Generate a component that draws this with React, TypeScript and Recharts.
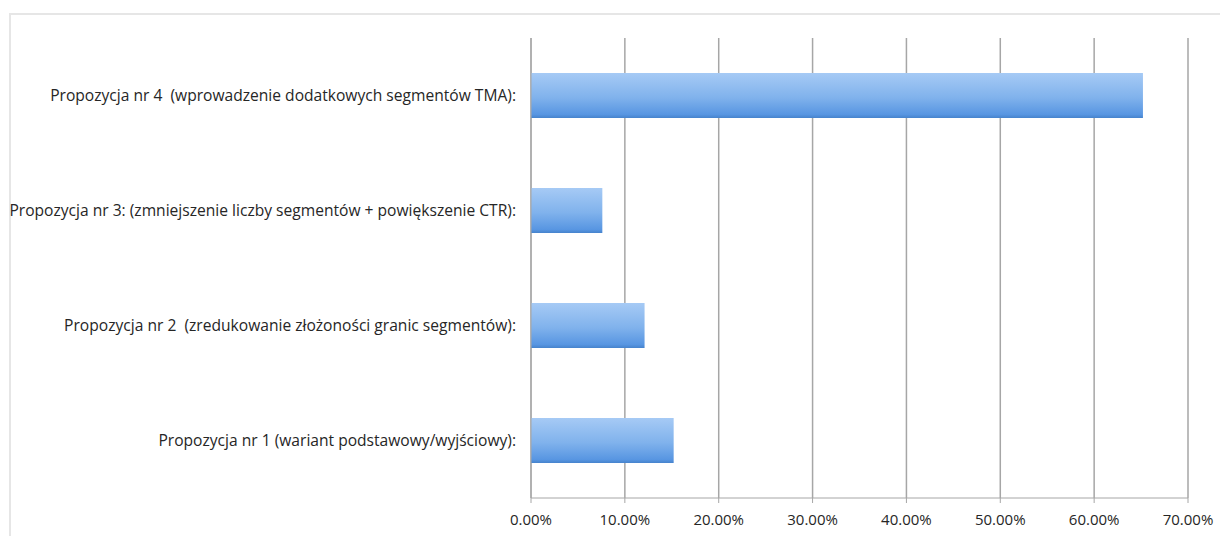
import { Bar, BarChart, CartesianGrid, XAxis, YAxis } from "recharts";

const categories = [
    "Propozycja nr 4 \u00a0(wprowadzenie dodatkowych segmentów TMA):",
    "Propozycja nr 3: (zmniejszenie liczby segmentów + powiększenie CTR):",
    "Propozycja nr 2 \u00a0(zredukowanie złożoności granic segmentów):",
    "Propozycja nr 1 (wariant podstawowy/wyjściowy):",
];
const shares = [0.652, 0.076, 0.121, 0.152];
const xTicks = [0, 0.1, 0.2, 0.3, 0.4, 0.5, 0.6, 0.7];

const data = categories.map((name, i) => ({ name, value: shares[i] }));

const FONT = "'Open Sans', 'Liberation Sans', sans-serif";

export default function App() {
    return (
        <div
            style={{
                position: "absolute",
                left: 0,
                top: 0,
                width: 1220,
                height: 536,
                background: "#fff",
                overflow: "hidden",
            }}
        >
            <div
                style={{
                    position: "absolute",
                    left: 9,
                    top: 13,
                    width: 1220,
                    height: 536,
                    borderTop: "2px solid #e6e6e6",
                    borderLeft: "2px solid #e6e6e6",
                }}
            />
            <div style={{ position: "absolute", left: 0, top: 0 }}>
                <BarChart
                    width={1220}
                    height={536}
                    data={data}
                    layout="vertical"
                    margin={{ top: 38, right: 32, bottom: 8, left: 0 }}
                    barCategoryGap={0}
                >
                    <defs>
                        <linearGradient id="barFill" x1="0" y1="0" x2="0" y2="1">
                            <stop offset="0%" stopColor="#a6caf5" />
                            <stop offset="55%" stopColor="#80b2ec" />
                            <stop offset="92%" stopColor="#5896e2" />
                            <stop offset="100%" stopColor="#4683cc" />
                        </linearGradient>
                    </defs>
                    <CartesianGrid
                        horizontal={false}
                        stroke="#a6a6a6"
                        strokeWidth={1.5}
                    />
                    <XAxis
                        type="number"
                        domain={[0, 0.7]}
                        ticks={xTicks}
                        height={30}
                        interval={0}
                        stroke="#a6a6a6"
                        tickSize={5}
                        tickMargin={11}
                        tick={{ fill: "#262626", fontSize: 15, fontFamily: FONT }}
                        tickFormatter={(v: number) => (v * 100).toFixed(2) + "%"}
                    />
                    <YAxis
                        type="category"
                        dataKey="name"
                        width={531}
                        stroke="#a6a6a6"
                        tickLine={false}
                        tickSize={6}
                        tickMargin={9}
                        tick={{ fill: "#262626", fontSize: 15.6, fontFamily: FONT }}
                    />
                    <Bar
                        dataKey="value"
                        fill="url(#barFill)"
                        barSize={45}
                        isAnimationActive={false}
                    />
                </BarChart>
            </div>
        </div>
    );
}
